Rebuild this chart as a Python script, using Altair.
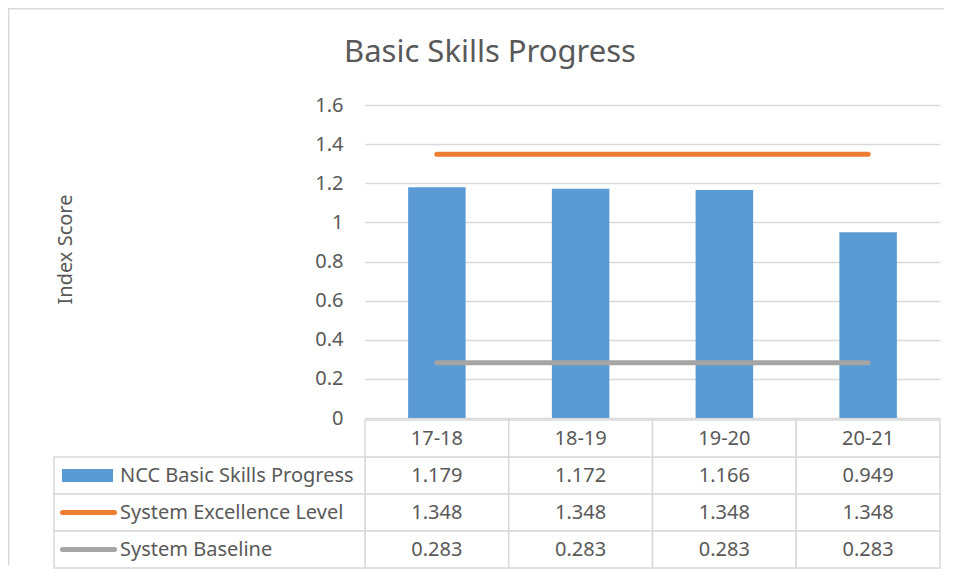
import altair as alt
import pandas as pd

# ---- data ----
years = ["17-18", "18-19", "19-20", "20-21"]
ncc = [1.179, 1.172, 1.166, 0.949]
excellence = [1.348, 1.348, 1.348, 1.348]
baseline = [0.283, 0.283, 0.283, 0.283]
series_names = ["NCC Basic Skills Progress", "System Excellence Level", "System Baseline"]
series_colors = ["#5B9BD5", "#ED7D31", "#A5A5A5"]
y_ticks = [0, 0.2, 0.4, 0.6, 0.8, 1.0, 1.2, 1.4, 1.6]
title_text = "Basic Skills Progress"
y_title = "Index Score"

FONT = "Noto Sans"
TXT = "#595959"
GRID = "#D9D9D9"

bars_df = pd.DataFrame({"Year": years, "Value": ncc})
lines_df = pd.DataFrame({
    "Year": years * 2,
    "Value": excellence + baseline,
    "Series": [series_names[1]] * len(years) + [series_names[2]] * len(years),
})
table_df = pd.DataFrame({
    "Year": years * 3,
    "Value": ncc + excellence + baseline,
    "Series": [s for s in series_names for _ in years],
})
hdr_df = pd.DataFrame({"Year": years, "Series": ["hdr"] * len(years)})
legend_df = pd.DataFrame({"Series": series_names})
title_df = pd.DataFrame({"Title": [title_text]})
frame_df = pd.DataFrame({"k": [0]})

W = 575
H_PLOT = 313
ROW_H = 37

color_scale = alt.Scale(domain=series_names, range=series_colors)

# ---- top plot ----
x_top = alt.X("Year:N", sort=years,
              scale=alt.Scale(domain=years, paddingInner=0.6, paddingOuter=0.3),
              axis=None)
y_top = alt.Y("Value:Q", scale=alt.Scale(domain=[0, 1.6], nice=False),
              axis=alt.Axis(values=y_ticks, tickCount=len(y_ticks) + 2,
                            format="~g", title=y_title,
                            grid=True, gridColor=GRID, gridWidth=1.5,
                            domain=False, ticks=False, labelOverlap=False,
                            labelFont=FONT, labelFontSize=20, labelColor=TXT,
                            labelPadding=22,
                            titleFont=FONT, titleFontSize=20, titleColor=TXT,
                            titleFontWeight="normal", titleAngle=-90,
                            titleX=-294, titleY=144, titleAlign="center",
                            titleBaseline="alphabetic"))

bars = alt.Chart(bars_df).mark_bar(color=series_colors[0]).encode(x=x_top, y=y_top)
lines = alt.Chart(lines_df).mark_line(strokeWidth=5, strokeCap="round").encode(
    x=x_top, y=alt.Y("Value:Q"),
    color=alt.Color("Series:N", scale=color_scale, legend=None),
    detail="Series:N",
)
# chart title (centred over the whole chart area)
title_mark = alt.Chart(title_df).mark_text(
    font=FONT, fontSize=31, color=TXT, align="center", baseline="alphabetic").encode(
    x=alt.value(125), y=alt.value(-43), text="Title:N")
# chart-area frame (top and left edges, the rest runs off the picture)
frame_top = alt.Chart(frame_df).mark_rect(color=GRID).encode(
    x=alt.value(-357), x2=alt.value(579), y=alt.value(-97), y2=alt.value(-95.5))
frame_left = alt.Chart(frame_df).mark_rect(color=GRID).encode(
    x=alt.value(-357), x2=alt.value(-355.5), y=alt.value(-97), y2=alt.value(460))
top = alt.layer(frame_top, frame_left, title_mark, bars, lines).properties(
    width=W, height=H_PLOT)

# ---- data table ----
x_tab = alt.X("Year:N", sort=years,
              scale=alt.Scale(domain=years, paddingInner=0, paddingOuter=0),
              axis=None)
y_tab = alt.Y("Series:N",
              scale=alt.Scale(domain=["hdr"] + series_names, paddingInner=0, paddingOuter=0),
              axis=None)

cells = alt.Chart(pd.concat([table_df, hdr_df], ignore_index=True)).mark_rect(
    fill="white", stroke=GRID, strokeWidth=1.5).encode(x=x_tab, y=y_tab)
vals = alt.Chart(table_df).mark_text(font=FONT, fontSize=20, color=TXT).encode(
    x=x_tab, y=y_tab, text=alt.Text("Value:Q", format=".3f"))
hdrs = alt.Chart(hdr_df).mark_text(font=FONT, fontSize=20, color=TXT).encode(
    x=x_tab, y=y_tab, text="Year:N")
left_cells = alt.Chart(legend_df).mark_rect(
    fill="white", stroke=GRID, strokeWidth=1.5).encode(
    x=alt.value(-311), x2=alt.value(0), y=y_tab)
left_text = alt.Chart(legend_df).mark_text(
    font=FONT, fontSize=20, color=TXT, align="left").encode(
    x=alt.value(-245), y=y_tab, text="Series:N")
sym_box = alt.Chart(legend_df.iloc[:1]).mark_rule(strokeWidth=13, strokeCap="butt").encode(
    x=alt.value(-303), x2=alt.value(-252), y=y_tab,
    color=alt.Color("Series:N", scale=color_scale, legend=None))
sym_lines = alt.Chart(legend_df.iloc[1:]).mark_rule(strokeWidth=5, strokeCap="round").encode(
    x=alt.value(-302.5), x2=alt.value(-250.5), y=y_tab,
    color=alt.Color("Series:N", scale=color_scale, legend=None))

table = alt.layer(cells, vals, hdrs, left_cells, left_text, sym_box, sym_lines).properties(
    width=W, height=ROW_H * 4)

chart = alt.vconcat(top, table, spacing=2, bounds="flush").resolve_scale(
    x="independent", y="independent", color="independent"
).properties(
    padding={"left": 0, "top": 0, "right": 0, "bottom": 0},
    background="white",
).configure_view(stroke=None)

chart.save("out.html", embed_options={"renderer": "svg", "actions": False})
